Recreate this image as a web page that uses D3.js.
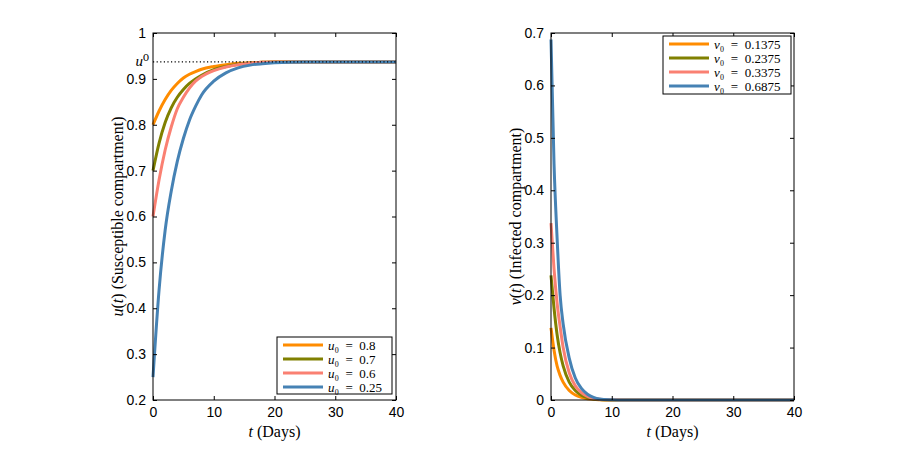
<!DOCTYPE html>
<html><head><meta charset="utf-8">
<script src="https://cdn.jsdelivr.net/npm/d3@7"></script>
<style>body{margin:0;background:#fff}svg{display:block}</style>
</head><body>
<svg id="c" width="900" height="450"></svg>
<script>
// ---- data ----
const uTimes = [0,1,2,3,4,5,6,7,8,10,12,14,16,18,20,25,30,35,40];
const uOrange = [0.8,0.83,0.855,0.875,0.89,0.902,0.91,0.916,0.921,0.927,0.931,0.934,0.935,0.936,0.937,0.937,0.937,0.937,0.937];
const uOlive  = [0.7,0.76,0.805,0.837,0.86,0.877,0.89,0.9,0.908,0.92,0.927,0.932,0.934,0.936,0.937,0.937,0.937,0.937,0.937];
const uPink   = [0.6,0.68,0.745,0.795,0.835,0.86,0.88,0.895,0.905,0.918,0.926,0.931,0.934,0.936,0.937,0.937,0.937,0.937,0.937];
const uBlue   = [0.25,0.44,0.57,0.655,0.72,0.77,0.81,0.84,0.865,0.895,0.913,0.924,0.93,0.933,0.935,0.937,0.937,0.937,0.937];
const uStar = 0.937;
const uLegend = ["0.8","0.7","0.6","0.25"];

const vTimes = [0,0.5,1,1.5,2,3,4,5,6,7,8,10,12,20,30,40];
const vOrange = [0.1375,0.095,0.065,0.047,0.034,0.018,0.0095,0.005,0.0025,0.0012,0.0006,0.0001,0,0,0,0];
const vOlive  = [0.2375,0.175,0.125,0.09,0.065,0.034,0.018,0.009,0.0045,0.002,0.001,0.0002,0,0,0,0];
const vPink   = [0.3375,0.25,0.185,0.14,0.1,0.052,0.027,0.014,0.007,0.003,0.0015,0.0003,0,0,0,0];
const vBlue   = [0.6875,0.45,0.31,0.2,0.145,0.08,0.042,0.022,0.011,0.005,0.002,0.0005,0,0,0,0];
const vLegend = ["0.1375","0.2375","0.3375","0.6875"];

const xTicks = [0,10,20,30,40];
const uTicks = [0.2,0.3,0.4,0.5,0.6,0.7,0.8,0.9,1];
const vTicks = [0,0.1,0.2,0.3,0.4,0.5,0.6,0.7];
const colors = ["#FF8C00","#808000","#FA8072","#4682B4"];

const svg = d3.select("#c");
const serif = "'Liberation Serif','DejaVu Serif',serif";
const sans = "'Liberation Sans',Arial,sans-serif";

function panel(opts){
  const {x0,x1,y0,y1,yDomain,yTicks,yFmt,times,series,ylabel,sym,legendVals,legend} = opts;
  const x = d3.scaleLinear().domain([0,40]).range([x0,x1]);
  const y = d3.scaleLinear().domain(yDomain).range([y1,y0]);
  const g = svg.append("g");
  const line = d3.line().x((d,i)=>x(times[i])).y(d=>y(d)).curve(d3.curveMonotoneX);
  series.forEach((s,i)=>{
    g.append("path").attr("d",line(s)).attr("fill","none")
     .attr("stroke",colors[i]).attr("stroke-width",3);
  });
  if(opts.after) opts.after(g,x,y);
  g.append("rect").attr("x",x0).attr("y",y0).attr("width",x1-x0).attr("height",y1-y0)
   .attr("fill","none").attr("stroke","#000").attr("stroke-width",1);
  const ax = g.append("g").attr("transform",`translate(0,${y1})`)
    .call(d3.axisBottom(x).tickValues(xTicks).tickSize(-4).tickPadding(7).tickFormat(d3.format("d")));
  const axT = g.append("g").attr("transform",`translate(0,${y0})`)
    .call(d3.axisTop(x).tickValues(xTicks).tickSize(-4).tickFormat(""));
  const ay = g.append("g").attr("transform",`translate(${x0},0)`)
    .call(d3.axisLeft(y).tickValues(yTicks).tickSize(-4).tickPadding(7).tickFormat(yFmt));
  const ayR = g.append("g").attr("transform",`translate(${x1},0)`)
    .call(d3.axisRight(y).tickValues(yTicks).tickSize(-4).tickFormat(""));
  [ax,axT,ay,ayR].forEach(a=>{
    a.select(".domain").remove();
    a.selectAll("line").attr("stroke","#000");
    a.selectAll("text").attr("font-family",sans).attr("font-size",14).attr("fill","#000");
  });
  const xl = g.append("text").attr("x",(x0+x1)/2).attr("y",y1+37).attr("text-anchor","middle")
    .attr("font-family",serif).attr("font-size",16);
  xl.append("tspan").attr("font-style","italic").text("t");
  xl.append("tspan").text(" (Days)");
  const yl = g.append("text").attr("transform",`translate(${x0-30},${(y0+y1)/2}) rotate(-90)`)
    .attr("text-anchor","middle").attr("font-family",serif).attr("font-size",16);
  yl.append("tspan").attr("font-style","italic").text(sym);
  yl.append("tspan").text("(");
  yl.append("tspan").attr("font-style","italic").text("t");
  yl.append("tspan").text(") " + ylabel);
  const L = legend;
  const lg = g.append("g");
  lg.append("rect").attr("x",L.x).attr("y",L.y).attr("width",L.w).attr("height",L.h)
    .attr("fill","#fff").attr("stroke","#000").attr("stroke-width",1);
  legendVals.forEach((v,i)=>{
    const yy = L.y + 8 + i*14;
    lg.append("line").attr("x1",L.x+6).attr("x2",L.x+46).attr("y1",yy).attr("y2",yy)
      .attr("stroke",colors[i]).attr("stroke-width",3);
    const t = lg.append("text").attr("x",L.x+51).attr("y",yy+4.5)
      .attr("font-family",serif).attr("font-size",13);
    t.append("tspan").attr("font-style","italic").text(sym);
    t.append("tspan").text("\u2080\u2002=\u2002" + v);
  });
}

panel({x0:153,x1:396,y0:33,y1:400,yDomain:[0.2,1],yTicks:uTicks,
  yFmt:d=>d3.format("")(+d.toFixed(1)),
  times:uTimes,series:[uOrange,uOlive,uPink,uBlue],
  ylabel:"(Susceptible compartment)",sym:"u",legendVals:uLegend,
  legend:{x:277,y:337,w:115,h:57},
  after:(g,x,y)=>{
    g.append("line").attr("x1",x(0)).attr("x2",x(40)).attr("y1",y(uStar)).attr("y2",y(uStar))
      .attr("stroke","#000").attr("stroke-width",1.2).attr("stroke-dasharray","1.2,2.4");
    const t = g.append("text").attr("x",x(0)-4).attr("y",y(uStar)+4).attr("text-anchor","end")
      .attr("font-family",serif).attr("font-size",15);
    t.append("tspan").attr("font-style","italic").text("u");
    t.append("tspan").text("\u2070");
  }});

panel({x0:551,x1:794,y0:33,y1:400,yDomain:[0,0.7],yTicks:vTicks,
  yFmt:d=>d3.format("")(+d.toFixed(1)),
  times:vTimes,series:[vOrange,vOlive,vPink,vBlue],
  ylabel:"(Infected compartment)",sym:"v",legendVals:vLegend,
  legend:{x:663,y:36,w:128,h:58}});
</script>
</body></html>
